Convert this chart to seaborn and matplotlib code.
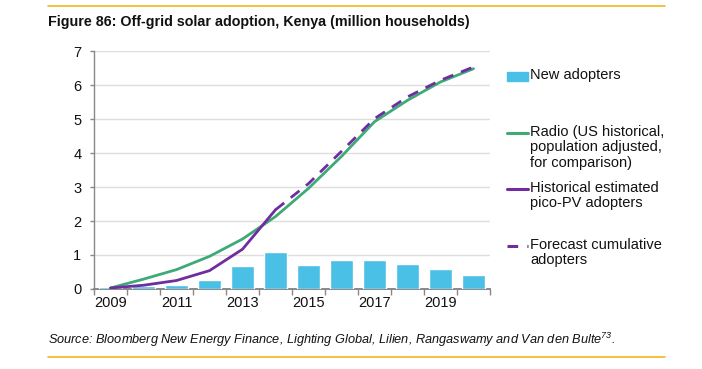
import numpy as np
import pandas as pd
import matplotlib
matplotlib.use("Agg")
import matplotlib.pyplot as plt
import seaborn as sns
from matplotlib.lines import Line2D
from matplotlib.patches import Rectangle

# ---- data ----
years = [2009, 2010, 2011, 2012, 2013, 2014, 2015, 2016, 2017, 2018, 2019, 2020]
new_adopters = [0.06, 0.09, 0.13, 0.27, 0.68, 1.09, 0.71, 0.86, 0.86, 0.74, 0.60, 0.42]
radio = [0.03, 0.29, 0.57, 0.96, 1.47, 2.13, 2.96, 3.90, 4.92, 5.55, 6.09, 6.48]
hist_years = [2009, 2010, 2011, 2012, 2013, 2014]
historical = [0.03, 0.11, 0.25, 0.54, 1.17, 2.33]
fc_years = [2014, 2015, 2016, 2017, 2018, 2019, 2020]
forecast = [2.33, 3.10, 4.05, 5.01, 5.65, 6.14, 6.53]
xlabel_years = [2009, 2011, 2013, 2015, 2017, 2019]
yticks = [0, 1, 2, 3, 4, 5, 6, 7]

title = "Figure 86: Off-grid solar adoption, Kenya (million households)"
source = "Source: Bloomberg New Energy Finance, Lighting Global, Lilien, Rangaswamy and Van den Bulte"
legend_labels = ["New adopters",
                 "Radio (US historical,\npopulation adjusted,\nfor comparison)",
                 "Historical estimated\npico-PV adopters",
                 "Forecast cumulative\nadopters"]

BAR = "#4BC0E6"
GREEN = "#3DAA78"
PURPLE = "#6F2DA0"
ORANGE = "#F5B41E"

sns.set_style("white")
plt.rcParams['font.family'] = ['Liberation Sans', 'DejaVu Sans']
plt.rcParams['mathtext.fontset'] = 'custom'
plt.rcParams['mathtext.rm'] = 'Liberation Sans:italic'
plt.rcParams['mathtext.it'] = 'Liberation Sans:italic'

W, H = 702, 369
fig = plt.figure(figsize=(W / 100, H / 100), dpi=100)
ax = fig.add_axes([94 / W, 1 - 289 / H, (490 - 94) / W, (289 - 51) / H])

df_bar = pd.DataFrame({"year": years, "value": new_adopters})
sns.barplot(data=df_bar, x="year", y="value", native_scale=True, color=BAR,
            saturation=1, width=0.68, ax=ax, zorder=3)

df_radio = pd.DataFrame({"year": years, "value": radio})
sns.lineplot(data=df_radio, x="year", y="value", color=GREEN, lw=2.0, ax=ax, zorder=4)
df_fc = pd.DataFrame({"year": fc_years, "value": forecast})
sns.lineplot(data=df_fc, x="year", y="value", color=PURPLE, lw=2.0, ax=ax, zorder=5,
             dashes=False)
ax.lines[-1].set_linestyle((0, (4, 3)))
df_hist = pd.DataFrame({"year": hist_years, "value": historical})
sns.lineplot(data=df_hist, x="year", y="value", color=PURPLE, lw=2.0, ax=ax, zorder=6)

ax.set_xlim(years[0] - 0.5, years[-1] + 0.5)
ax.set_ylim(yticks[0], yticks[-1])
ax.set_xlabel("")
ax.set_ylabel("")

# x ticks at category boundaries, labels at centres
bounds = [y - 0.5 for y in years] + [years[-1] + 0.5]
ax.set_xticks(bounds)
ax.set_xticklabels([])
ax.set_xticks(xlabel_years, minor=True)
ax.set_xticklabels([str(y) for y in xlabel_years], minor=True)
ax.tick_params(axis="x", which="major", length=4.5, width=1, color="#888888", direction="out", bottom=True)
ax.tick_params(axis="x", which="minor", length=0, pad=5, labelsize=10.5, labelcolor="#111111")
ax.set_yticks(yticks)
ax.set_yticklabels([str(v) for v in yticks])
ax.tick_params(axis="y", length=3, width=1, color="#888888", direction="out", left=True, pad=6,
               labelsize=10.5, labelcolor="#111111")

ax.grid(axis="y", color="#dedede", lw=1, zorder=0)
ax.set_axisbelow(True)
for s in ["top", "right"]:
    ax.spines[s].set_visible(False)
ax.spines["left"].set_color("#888888")
ax.spines["left"].set_linewidth(1)
ax.spines["bottom"].set_color("#888888")
ax.spines["bottom"].set_linewidth(1.4)
ax.spines["bottom"].set_zorder(2.8)

# ---- legend (manual, figure coords) ----
def fx(px):
    return px / W

def fy(py):
    return 1 - py / H

fig.patches.append(Rectangle((fx(507), fy(81)), fx(528) - fx(507), fy(72) - fy(81),
                             transform=fig.transFigure, color=BAR, zorder=5))
fig.lines.append(Line2D([fx(507), fx(528)], [fy(133), fy(133)], transform=fig.transFigure,
                        color=GREEN, lw=2.2))
fig.lines.append(Line2D([fx(507), fx(528)], [fy(189), fy(189)], transform=fig.transFigure,
                        color=PURPLE, lw=2.2))
fig.lines.append(Line2D([fx(507), fx(528)], [fy(246), fy(246)], transform=fig.transFigure,
                        color=PURPLE, lw=2.2, linestyle=(0, (3.5, 3))))
label_tops = [68, 125, 181, 238]
for lab, top in zip(legend_labels, label_tops):
    fig.text(fx(530), fy(top), lab, ha="left", va="top", fontsize=10.5,
             linespacing=1.13, color="#111111")

# ---- title, source, rules ----
fig.lines.append(Line2D([fx(48), fx(665)], [fy(6), fy(6)], transform=fig.transFigure,
                        color=ORANGE, lw=1.2))
fig.lines.append(Line2D([fx(48), fx(665)], [fy(357), fy(357)], transform=fig.transFigure,
                        color=ORANGE, lw=1.2))
fig.text(fx(48), fy(22), title, ha="left", va="center", fontsize=10.25,
         fontweight="bold", color="#111111")
fig.text(fx(48), fy(340), source + r"$^{73}$.", ha="left", va="center", fontsize=9.2,
         style="italic", color="#111111")

fig.savefig("out.png", dpi=100)
